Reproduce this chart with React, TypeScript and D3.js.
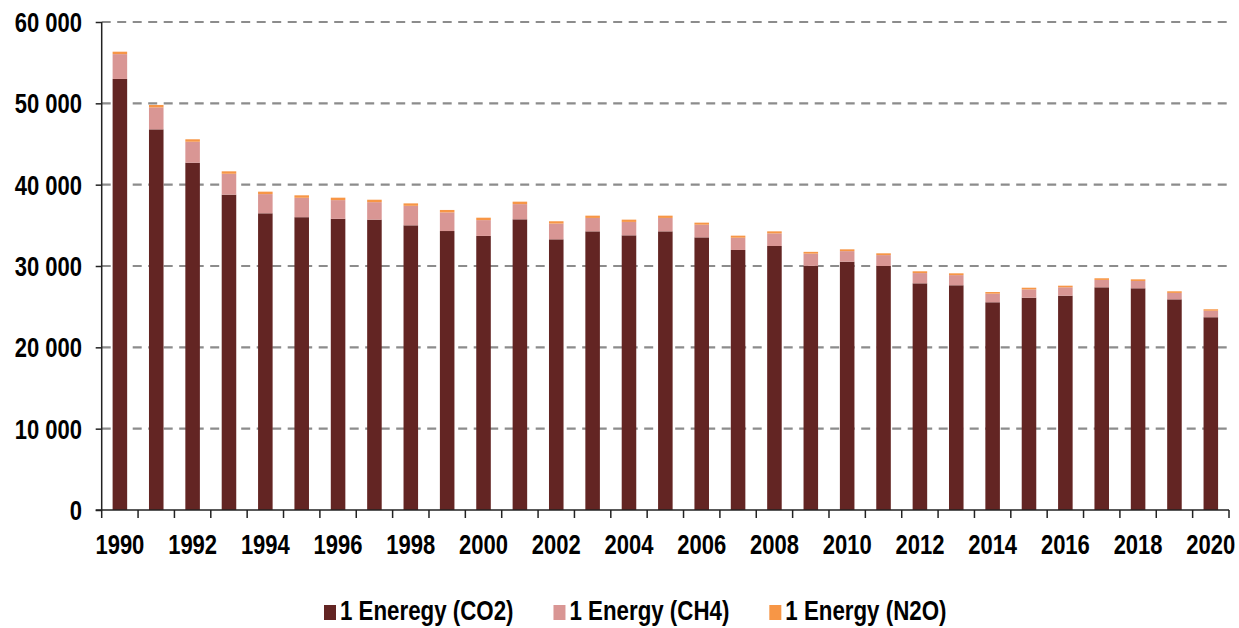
import { useRef, useEffect } from 'react';
import * as d3 from 'd3';

const years = d3.range(1990, 2021).map(String);

// kt CO2 eq
const co2 = [
    53000, 46800, 42700, 38770, 36480, 36000, 35800, 35700, 35000, 34300,
    33700, 35740, 33280, 34260, 33770, 34260, 33520, 31970, 32460, 30020,
    30530, 30000, 27870, 27630, 25540, 26100, 26350, 27380, 27260, 25900,
    23700
];
const ch4 = [
    3050, 2700, 2580, 2570, 2360, 2390, 2300, 2150, 2400, 2290,
    1940, 1870, 1940, 1650, 1650, 1650, 1560, 1510, 1550, 1500,
    1300, 1340, 1260, 1250, 1060, 1030, 1030, 910, 900, 790,
    800
];
const n2o = [
    300, 300, 300, 300, 300, 300, 300, 300, 300, 300,
    300, 300, 280, 280, 280, 280, 250, 250, 250, 220,
    220, 220, 220, 220, 200, 200, 200, 200, 200, 200,
    180
];

const seriesNames = ['1 Eneregy (CO2)', '1 Energy (CH4)', '1 Energy (N2O)'];
const seriesColors = ['#632523', '#d99694', '#f79646'];
const yTicks = [0, 10000, 20000, 30000, 40000, 50000, 60000];

const FONT = '"Liberation Sans", Arial, sans-serif';
const STRETCH = 1.28;

const EnergyEmissionsChart = () => {
    const svgRef = useRef<SVGSVGElement | null>(null);

    const renderChart = () => {
        const svgElement = svgRef.current;
        if (!svgElement) return;

        const width = 1239;
        const height = 628;
        const margin = { top: 22, right: 10, bottom: 118, left: 101.7 };

        const svg = d3.select(svgElement)
            .attr('width', width)
            .attr('height', height);

        svg.selectAll('*').remove();

        const rows = years.map((year, i) => ({ year, co2: co2[i], ch4: ch4[i], n2o: n2o[i] }));
        const stack = d3.stack<any>().keys(['co2', 'ch4', 'n2o'])(rows);

        const x = d3.scaleBand()
            .domain(years)
            .range([margin.left, width - margin.right])
            .paddingInner(0.6)
            .paddingOuter(0.3);

        const y = d3.scaleLinear()
            .domain([0, 60000])
            .range([height - margin.bottom, margin.top]);

        const x0 = margin.left;
        const x1 = width - margin.right;
        const step = (x1 - x0) / years.length;

        // grid
        svg.append('g')
            .selectAll('line')
            .data(yTicks.filter(d => d > 0))
            .join('line')
            .attr('x1', x0)
            .attr('x2', x1 - 2)
            .attr('y1', d => y(d))
            .attr('y2', d => y(d))
            .attr('stroke', '#8c8c8c')
            .attr('stroke-width', 2.2)
            .attr('stroke-dasharray', '9,6.5');

        // bars
        svg.append('g')
            .selectAll('g')
            .data(stack)
            .join('g')
            .attr('fill', (_, i) => seriesColors[i])
            .selectAll('rect')
            .data(d => d)
            .join('rect')
            .attr('x', d => x(d.data.year)!)
            .attr('width', x.bandwidth())
            .attr('y', d => y(d[1]))
            .attr('height', d => y(d[0]) - y(d[1]));

        // y axis
        const yAxis = svg.append('g')
            .attr('transform', `translate(${x0}, 0)`)
            .call(d3.axisLeft(y).tickValues(yTicks).tickSize(6).tickFormat(() => ''));
        yAxis.selectAll('path, line')
            .attr('stroke', '#222')
            .attr('stroke-width', 1.5);
        yAxis.select('path').attr('d', `M0,${y(60000)}V${y(0)}`);

        svg.append('g')
            .selectAll('text')
            .data(yTicks)
            .join('text')
            .attr('transform', d => `translate(82, ${y(d) + 10}) scale(1, ${STRETCH})`)
            .attr('text-anchor', 'end')
            .style('font-family', FONT)
            .style('font-weight', 'bold')
            .style('font-size', '22px')
            .style('fill', '#000')
            .text(d => d === 0 ? '0' : d3.format(',')(d).replace(',', ' '));

        // x axis
        const base = y(0);
        svg.append('line')
            .attr('x1', x0 - 6)
            .attr('x2', x1)
            .attr('y1', base)
            .attr('y2', base)
            .attr('stroke', '#222')
            .attr('stroke-width', 1.5);

        svg.append('g')
            .selectAll('line')
            .data(d3.range(years.length + 1))
            .join('line')
            .attr('x1', i => x0 + i * step)
            .attr('x2', i => x0 + i * step)
            .attr('y1', base)
            .attr('y2', base + 8)
            .attr('stroke', '#222')
            .attr('stroke-width', 1.5);

        svg.append('g')
            .selectAll('text')
            .data(years.filter((_, i) => i % 2 === 0))
            .join('text')
            .attr('transform', d => `translate(${x(d)! + x.bandwidth() / 2}, 554) scale(1, ${STRETCH})`)
            .attr('text-anchor', 'middle')
            .style('font-family', FONT)
            .style('font-weight', 'bold')
            .style('font-size', '22px')
            .style('fill', '#000')
            .text(d => d);

        // legend
        const legend = svg.append('g');
        let lx = 324;
        seriesNames.forEach((name, i) => {
            legend.append('rect')
                .attr('x', lx)
                .attr('y', 605)
                .attr('width', 12)
                .attr('height', 15)
                .attr('fill', seriesColors[i]);
            const t = legend.append('text')
                .attr('transform', `translate(${lx + 16}, 620) scale(1, ${STRETCH})`)
                .style('font-family', FONT)
                .style('font-weight', 'bold')
                .style('font-size', '22.3px')
                .style('fill', '#000')
                .text(name);
            const len = (t.node() as SVGTextElement).getComputedTextLength();
            lx += 16 + len + 40;
        });
    };

    useEffect(() => {
        renderChart();
    }, []);

    return (
        <div style={{ position: 'absolute', left: 0, top: 0, background: '#fff' }}>
            <svg ref={svgRef} style={{ display: 'block' }}></svg>
        </div>
    );
};

export default function App() {
    return <EnergyEmissionsChart />;
}
